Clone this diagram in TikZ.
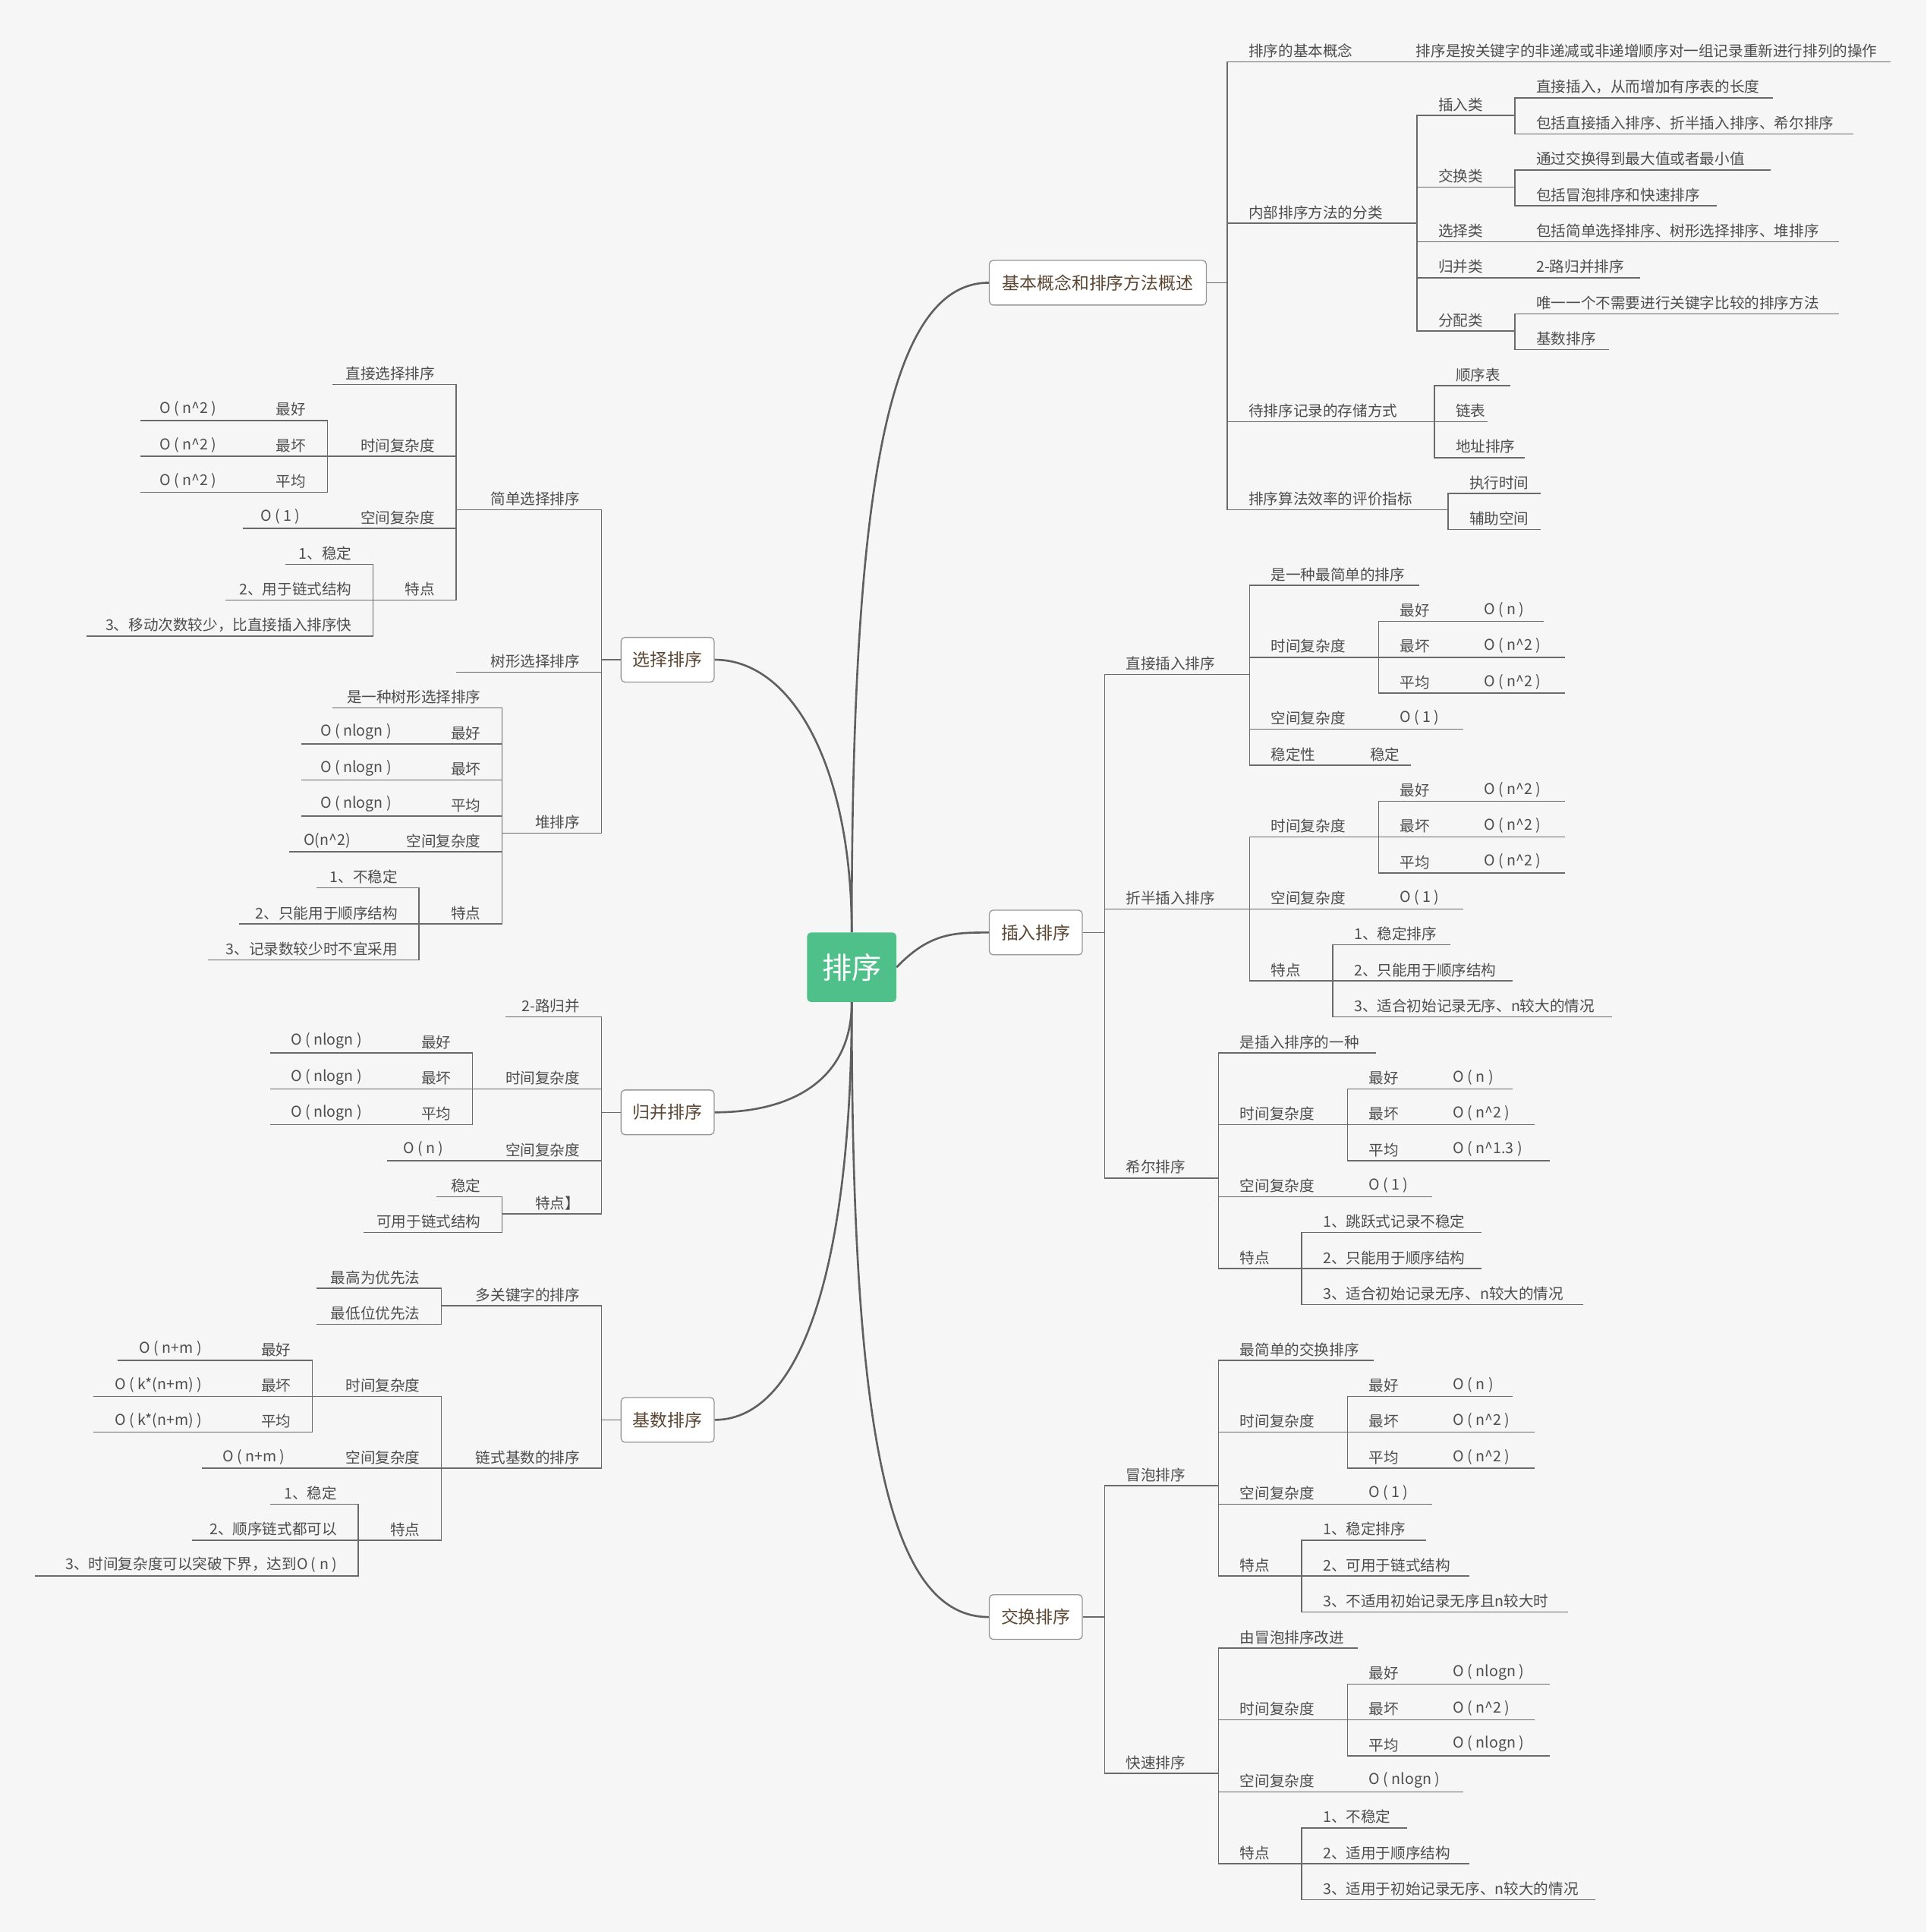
\documentclass[tikz,border=0pt]{standalone}
\usepackage{fontspec}
\setmainfont{Noto Sans CJK SC}
\newcommand\cir{\textasciicircum}
\definecolor{bg}{HTML}{F6F6F6}
\definecolor{lnc}{HTML}{6A6A6A}
\definecolor{txc}{HTML}{4D4D4D}
\definecolor{boxt}{HTML}{5A4632}
\definecolor{grn}{HTML}{4FC08A}
\tikzset{
 ln/.style={draw=lnc,line width=0.9pt},
 main/.style={draw=lnc!90!black,line width=1.6pt},
 txt/.style={inner sep=0pt,text=txc,font=\fontsize{12}{14}\selectfont},
 box/.style={draw=lnc!70,fill=white,rounded corners=3pt,line width=0.8pt,minimum height=36pt,inner xsep=9pt,text=boxt,font=\fontsize{14}{16}\selectfont},
 ctr/.style={fill=grn,rounded corners=3pt,minimum width=72pt,minimum height=56pt,text=white,font=\fontsize{24}{26}\selectfont}
}
\newcommand\RN[6]{%
 \coordinate (#2-a) at (#3,#5); \coordinate (#2-b) at (#4,#5);
 \draw[ln] (#1-b) -- (#2-a) -- (#2-b);
 \node[txt,anchor=south west] (#2) at ([xshift=17pt,yshift=3pt]#2-a) {#6};}
\newcommand\LN[6]{%
 \coordinate (#2-a) at (#3,#5); \coordinate (#2-b) at (#4,#5);
 \draw[ln] (#1-b) -- (#2-a) -- (#2-b);
 \node[txt,anchor=south east] (#2) at ([xshift=-17pt,yshift=3pt]#2-a) {#6};}
\begin{document}
\begin{tikzpicture}[x=1pt,y=-1pt]
\fill[bg] (0,0) rectangle (1554,1558);
\useasboundingbox (0,0) rectangle (1554,1558);
\node[ctr] (C) at (687,780) {排序};
\node[box,minimum width=175pt] (B1) at (885.5,228) {基本概念和排序方法概述};
\node[box,minimum width=75pt] (B2) at (835.5,752) {插入排序};
\node[box,minimum width=75pt] (B3) at (835.5,1304) {交换排序};
\node[box,minimum width=75pt] (L1) at (538.5,532) {选择排序};
\node[box,minimum width=75pt] (L2) at (538.5,897) {归并排序};
\node[box,minimum width=75pt] (L3) at (538.5,1145) {基数排序};
\draw[main] (C.north) .. controls (687,400) and (715,228) .. (B1.west);
\draw[main] (C.east) .. controls (750,752) and (770,752) .. (B2.west);
\draw[main] (C.south) .. controls (687,1150) and (715,1304) .. (B3.west);
\draw[main] (C.north) .. controls (687,620) and (640,532) .. (L1.east);
\draw[main] (C.south) .. controls (687,870) and (640,897) .. (L2.east);
\draw[main] (C.south) .. controls (687,1010) and (650,1145) .. (L3.east);
% B1
\coordinate (B1-b) at (990,228); \draw[ln] (B1.east)--(B1-b);
\RN{B1}{r1}{990}{1125}{50}{排序的基本概念}
\RN{r1}{r1a}{1125}{1525}{50}{排序是按关键字的非递减或非递增顺序对一组记录重新进行排列的操作}
\RN{B1}{r2}{990}{1143}{180}{内部排序方法的分类}
\RN{r2}{r2a}{1143}{1222}{93}{插入类}
\RN{r2a}{r2a1}{1222}{1430}{79}{直接插入，从而增加有序表的长度}
\RN{r2a}{r2a2}{1222}{1495}{108}{包括直接插入排序、折半插入排序、希尔排序}
\RN{r2}{r2b}{1143}{1222}{151}{交换类}
\RN{r2b}{r2b1}{1222}{1428}{137}{通过交换得到最大值或者最小值}
\RN{r2b}{r2b2}{1222}{1385}{166}{包括冒泡排序和快速排序}
\RN{r2}{r2c}{1143}{1222}{195}{选择类}
\RN{r2c}{r2c1}{1222}{1483}{195}{包括简单选择排序、树形选择排序、堆排序}
\RN{r2}{r2d}{1143}{1222}{224}{归并类}
\RN{r2d}{r2d1}{1222}{1323}{224}{2-路归并排序}
\RN{r2}{r2e}{1143}{1222}{267}{分配类}
\RN{r2e}{r2e1}{1222}{1483}{253}{唯一一个不需要进行关键字比较的排序方法}
\RN{r2e}{r2e2}{1222}{1298}{282}{基数排序}
\RN{B1}{r3}{990}{1157}{340}{待排序记录的存储方式}
\RN{r3}{r3a}{1157}{1218}{311}{顺序表}
\RN{r3}{r3b}{1157}{1200}{340}{链表}
\RN{r3}{r3c}{1157}{1230}{369}{地址排序}
\RN{B1}{r4}{990}{1168}{411}{排序算法效率的评价指标}
\RN{r4}{r4a}{1168}{1243}{398}{执行时间}
\RN{r4}{r4b}{1168}{1243}{427}{辅助空间}
% B2
\coordinate (B2-b) at (891,752); \draw[ln] (B2.east)--(B2-b);
\RN{B2}{s1}{891}{1008}{544}{直接插入排序}
\RN{s1}{s1a}{1008}{1145}{472}{是一种最简单的排序}
\RN{s1}{s1b}{1008}{1112}{530}{时间复杂度}
\RN{s1b}{s1b1}{1112}{1180}{501}{最好}\RN{s1b1}{s1b1x}{1180}{1245}{501}{O ( n )}
\RN{s1b}{s1b2}{1112}{1180}{530}{最坏}\RN{s1b2}{s1b2x}{1180}{1262}{530}{O ( n\cir2 )}
\RN{s1b}{s1b3}{1112}{1180}{559}{平均}\RN{s1b3}{s1b3x}{1180}{1262}{559}{O ( n\cir2 )}
\RN{s1}{s1c}{1008}{1112}{588}{空间复杂度}\RN{s1c}{s1cx}{1112}{1180}{588}{O ( 1 )}
\RN{s1}{s1d}{1008}{1088}{617}{稳定性}\RN{s1d}{s1dx}{1088}{1138}{617}{稳定}
\RN{B2}{s2}{891}{1008}{733}{折半插入排序}
\RN{s2}{s2b}{1008}{1112}{675}{时间复杂度}
\RN{s2b}{s2b1}{1112}{1180}{646}{最好}\RN{s2b1}{s2b1x}{1180}{1262}{646}{O ( n\cir2 )}
\RN{s2b}{s2b2}{1112}{1180}{675}{最坏}\RN{s2b2}{s2b2x}{1180}{1262}{675}{O ( n\cir2 )}
\RN{s2b}{s2b3}{1112}{1180}{704}{平均}\RN{s2b3}{s2b3x}{1180}{1262}{704}{O ( n\cir2 )}
\RN{s2}{s2c}{1008}{1112}{733}{空间复杂度}\RN{s2c}{s2cx}{1112}{1180}{733}{O ( 1 )}
\RN{s2}{s2d}{1008}{1075}{791}{特点}
\RN{s2d}{s2d1}{1075}{1170}{762}{1、稳定排序}
\RN{s2d}{s2d2}{1075}{1220}{791}{2、只能用于顺序结构}
\RN{s2d}{s2d3}{1075}{1300}{820}{3、适合初始记录无序、n较大的情况}
\RN{B2}{s3}{891}{983}{950}{希尔排序}
\RN{s3}{s3a}{983}{1110}{849}{是插入排序的一种}
\RN{s3}{s3b}{983}{1087}{907}{时间复杂度}
\RN{s3b}{s3b1}{1087}{1155}{878}{最好}\RN{s3b1}{s3b1x}{1155}{1220}{878}{O ( n )}
\RN{s3b}{s3b2}{1087}{1155}{907}{最坏}\RN{s3b2}{s3b2x}{1155}{1238}{907}{O ( n\cir2 )}
\RN{s3b}{s3b3}{1087}{1155}{936}{平均}\RN{s3b3}{s3b3x}{1155}{1250}{936}{O ( n\cir1.3 )}
\RN{s3}{s3c}{983}{1087}{965}{空间复杂度}\RN{s3c}{s3cx}{1087}{1155}{965}{O ( 1 )}
\RN{s3}{s3d}{983}{1050}{1023}{特点}
\RN{s3d}{s3d1}{1050}{1195}{994}{1、跳跃式记录不稳定}
\RN{s3d}{s3d2}{1050}{1195}{1023}{2、只能用于顺序结构}
\RN{s3d}{s3d3}{1050}{1277}{1052}{3、适合初始记录无序、n较大的情况}
% B3
\coordinate (B3-b) at (891,1304); \draw[ln] (B3.east)--(B3-b);
\RN{B3}{t1}{891}{983}{1198}{冒泡排序}
\RN{t1}{t1a}{983}{1108}{1097}{最简单的交换排序}
\RN{t1}{t1b}{983}{1087}{1155}{时间复杂度}
\RN{t1b}{t1b1}{1087}{1155}{1126}{最好}\RN{t1b1}{t1b1x}{1155}{1220}{1126}{O ( n )}
\RN{t1b}{t1b2}{1087}{1155}{1155}{最坏}\RN{t1b2}{t1b2x}{1155}{1238}{1155}{O ( n\cir2 )}
\RN{t1b}{t1b3}{1087}{1155}{1184}{平均}\RN{t1b3}{t1b3x}{1155}{1238}{1184}{O ( n\cir2 )}
\RN{t1}{t1c}{983}{1087}{1213}{空间复杂度}\RN{t1c}{t1cx}{1087}{1155}{1213}{O ( 1 )}
\RN{t1}{t1d}{983}{1050}{1271}{特点}
\RN{t1d}{t1d1}{1050}{1150}{1242}{1、稳定排序}
\RN{t1d}{t1d2}{1050}{1185}{1271}{2、可用于链式结构}
\RN{t1d}{t1d3}{1050}{1265}{1300}{3、不适用初始记录无序且n较大时}
\RN{B3}{t2}{891}{983}{1430}{快速排序}
\RN{t2}{t2a}{983}{1095}{1329}{由冒泡排序改进}
\RN{t2}{t2b}{983}{1087}{1387}{时间复杂度}
\RN{t2b}{t2b1}{1087}{1155}{1358}{最好}\RN{t2b1}{t2b1x}{1155}{1250}{1358}{O ( nlogn )}
\RN{t2b}{t2b2}{1087}{1155}{1387}{最坏}\RN{t2b2}{t2b2x}{1155}{1238}{1387}{O ( n\cir2 )}
\RN{t2b}{t2b3}{1087}{1155}{1416}{平均}\RN{t2b3}{t2b3x}{1155}{1250}{1416}{O ( nlogn )}
\RN{t2}{t2c}{983}{1087}{1445}{空间复杂度}\RN{t2c}{t2cx}{1087}{1180}{1445}{O ( nlogn )}
\RN{t2}{t2d}{983}{1050}{1503}{特点}
\RN{t2d}{t2d1}{1050}{1135}{1474}{1、不稳定}
\RN{t2d}{t2d2}{1050}{1185}{1503}{2、适用于顺序结构}
\RN{t2d}{t2d3}{1050}{1287}{1532}{3、适用于初始记录无序、n较大的情况}
% L1
\coordinate (L1-b) at (485,532); \draw[ln] (L1.west)--(L1-b);
\LN{L1}{u1}{485}{368}{411}{简单选择排序}
\LN{u1}{u1a}{368}{268}{310}{直接选择排序}
\LN{u1}{u1b}{368}{264}{368}{时间复杂度}
\LN{u1b}{u1b1}{264}{192}{339}{最好}\LN{u1b1}{u1b1x}{192}{113}{339}{O ( n\cir2 )}
\LN{u1b}{u1b2}{264}{192}{368}{最坏}\LN{u1b2}{u1b2x}{192}{113}{368}{O ( n\cir2 )}
\LN{u1b}{u1b3}{264}{192}{397}{平均}\LN{u1b3}{u1b3x}{192}{113}{397}{O ( n\cir2 )}
\LN{u1}{u1c}{368}{259}{426}{空间复杂度}\LN{u1c}{u1cx}{259}{196}{426}{O ( 1 )}
\LN{u1}{u1d}{368}{301}{484}{特点}
\LN{u1d}{u1d1}{301}{230}{455}{1、稳定}
\LN{u1d}{u1d2}{301}{182}{484}{2、用于链式结构}
\LN{u1d}{u1d3}{301}{70}{513}{3、移动次数较少，比直接插入排序快}
\LN{L1}{u2}{485}{368}{542}{树形选择排序}
\LN{L1}{u3}{485}{405}{672}{堆排序}
\LN{u3}{u3a}{405}{268}{571}{是一种树形选择排序}
\LN{u3}{u3b}{405}{333}{600}{最好}\LN{u3b}{u3bx}{333}{243}{600}{O ( nlogn )}
\LN{u3}{u3c}{405}{333}{629}{最坏}\LN{u3c}{u3cx}{333}{243}{629}{O ( nlogn )}
\LN{u3}{u3d}{405}{333}{658}{平均}\LN{u3d}{u3dx}{333}{243}{658}{O ( nlogn )}
\LN{u3}{u3e}{405}{300}{687}{空间复杂度}\LN{u3e}{u3ex}{300}{233}{687}{O(n\cir2)}
\LN{u3}{u3f}{405}{338}{745}{特点}
\LN{u3f}{u3f1}{338}{255}{716}{1、不稳定}
\LN{u3f}{u3f2}{338}{193}{745}{2、只能用于顺序结构}
\LN{u3f}{u3f3}{338}{168}{774}{3、记录数较少时不宜采用}
% L2
\coordinate (L2-b) at (485,897); \draw[ln] (L2.west)--(L2-b);
\LN{L2}{v1}{485}{408}{820}{2-路归并}
\LN{L2}{v2}{485}{381}{878}{时间复杂度}
\LN{v2}{v2a}{381}{309}{849}{最好}\LN{v2a}{v2ax}{309}{218}{849}{O ( nlogn )}
\LN{v2}{v2b}{381}{309}{878}{最坏}\LN{v2b}{v2bx}{309}{218}{878}{O ( nlogn )}
\LN{v2}{v2c}{381}{309}{907}{平均}\LN{v2c}{v2cx}{309}{218}{907}{O ( nlogn )}
\LN{L2}{v3}{485}{375}{936}{空间复杂度}\LN{v3}{v3x}{375}{312}{936}{O ( n )}
\LN{L2}{v4}{485}{405}{979}{特点】}
\LN{v4}{v4a}{405}{352}{965}{稳定}
\LN{v4}{v4b}{405}{293}{994}{可用于链式结构}
% L3
\coordinate (L3-b) at (485,1145); \draw[ln] (L3.west)--(L3-b);
\LN{L3}{w1}{485}{356}{1053}{多关键字的排序}
\LN{w1}{w1a}{356}{255}{1039}{最高为优先法}
\LN{w1}{w1b}{356}{255}{1068}{最低位优先法}
\LN{L3}{w2}{485}{356}{1184}{链式基数的排序}
\LN{w2}{w2a}{356}{252}{1126}{时间复杂度}
\LN{w2a}{w2a1}{252}{180}{1097}{最好}\LN{w2a1}{w2a1x}{180}{95}{1097}{O ( n+m )}
\LN{w2a}{w2a2}{252}{180}{1126}{最坏}\LN{w2a2}{w2a2x}{180}{75}{1126}{O ( k*(n+m) )}
\LN{w2a}{w2a3}{252}{180}{1155}{平均}\LN{w2a3}{w2a3x}{180}{75}{1155}{O ( k*(n+m) )}
\LN{w2}{w2b}{356}{247}{1184}{空间复杂度}\LN{w2b}{w2bx}{247}{163}{1184}{O ( n+m )}
\LN{w2}{w2c}{356}{289}{1242}{特点}
\LN{w2c}{w2c1}{289}{218}{1213}{1、稳定}
\LN{w2c}{w2c2}{289}{155}{1242}{2、顺序链式都可以}
\LN{w2c}{w2c3}{289}{28}{1271}{3、时间复杂度可以突破下界，达到O ( n )}
\end{tikzpicture}
\end{document}
